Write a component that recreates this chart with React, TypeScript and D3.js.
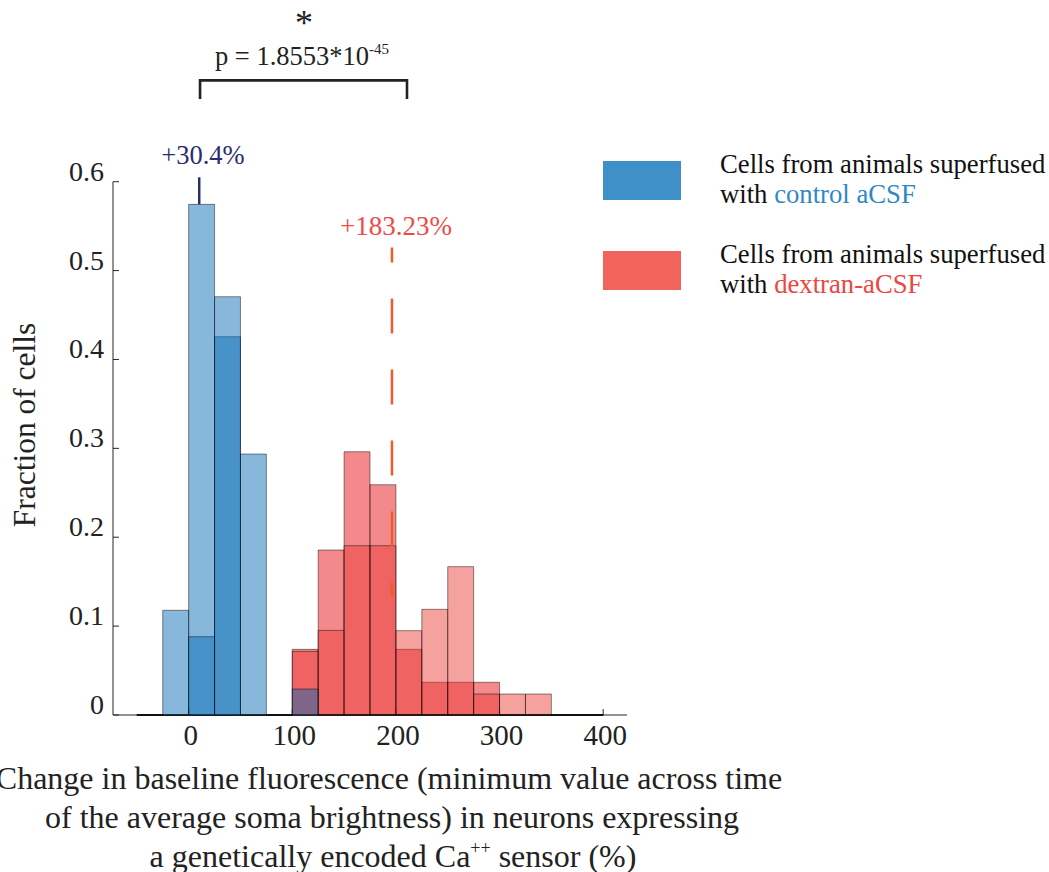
import React from 'react';
import * as d3 from 'd3';

// Histogram bin edges (shared by all four histograms)
const binEdges = [-50, -25, 0, 25, 50, 75, 100, 125, 150, 175, 200, 225, 250, 275, 300, 325, 350, 375, 400];

// Fractions of cells per bin
const controlA = [0, 0, 0.5745, 0.4256, 0, 0, 0, 0, 0, 0, 0, 0, 0, 0, 0, 0, 0, 0];
const controlB = [0, 0.1178, 0.0881, 0.4706, 0.2936, 0, 0.0292, 0, 0, 0, 0, 0, 0, 0, 0, 0, 0, 0];
const dextranA = [0, 0, 0, 0, 0, 0, 0.0739, 0.1856, 0.2962, 0.2591, 0.0739, 0.0368, 0.0368, 0.0368, 0, 0, 0, 0];
const dextranB = [0, 0, 0, 0, 0, 0, 0.0716, 0.0952, 0.1905, 0.1905, 0.0949, 0.1189, 0.1669, 0.0236, 0.0236, 0.0236, 0, 0];

const xTicks = [0, 100, 200, 300, 400];
const yTicks = [0, 0.1, 0.2, 0.3, 0.4, 0.5, 0.6];
const yTickLabels = ['0', '0.1', '0.2', '0.3', '0.4', '0.5', '0.6'];

// Annotation values (data units)
const controlMarkerX = 10.2;
const controlMarkerY = [0.5745, 0.605];
const dextranMarkerX = 196.2;
const dextranMarkerY = [0.133, 0.526];
const bracketX = [11, 210.7];
const bracketY = [0.693, 0.714];

const FONT = '"Liberation Serif", "Times New Roman", serif';

export default function App() {
  const W = 1049;
  const H = 872;
  const x = d3.scaleLinear().domain([-73, 423]).range([113, 627]);
  const y = d3.scaleLinear().domain([0, 0.6]).range([715, 181.7]);

  const series = [
    { vals: dextranA, fill: 'rgb(235,40,45)', op: 0.55 },
    { vals: dextranB, fill: 'rgb(235,59,53)', op: 0.48 },
    { vals: controlA, fill: 'rgb(0,104,181)', op: 0.47 },
    { vals: controlB, fill: 'rgb(0,104,181)', op: 0.47 },
  ];

  const barPath = (i: number, v: number) => {
    const x0 = x(binEdges[i]);
    const x1 = x(binEdges[i + 1]);
    const y0 = y(0);
    const y1 = y(v);
    const p = d3.path();
    p.moveTo(x0, y0);
    p.lineTo(x0, y1);
    p.lineTo(x1, y1);
    p.lineTo(x1, y0);
    p.closePath();
    return p.toString();
  };

  const axisColor = '#262626';

  return (
    <svg width={W} height={H} style={{ position: 'absolute', left: 0, top: 0, background: '#fff' }} fontFamily={FONT}>
      {/* axes */}
      <line x1={x.range()[0]} x2={x.range()[0]} y1={y(0)} y2={y(0.6)} stroke={axisColor} strokeWidth={1} />
      <line x1={x.range()[0]} x2={x.range()[1]} y1={y(0)} y2={y(0)} stroke={axisColor} strokeWidth={1} />
      {yTicks.map((t, i) => (
        <g key={'yt' + i}>
          <line x1={x.range()[0]} x2={x.range()[0] + 6} y1={y(t)} y2={y(t)} stroke={axisColor} strokeWidth={1} />
          <text x={104} y={y(t) - 1} textAnchor="end" fontSize={28} fill="#222">{yTickLabels[i]}</text>
        </g>
      ))}
      {xTicks.map((t, i) => (
        <g key={'xt' + i}>
          <line x1={x(t)} x2={x(t)} y1={y(0)} y2={y(0) - 6} stroke={axisColor} strokeWidth={1} />
          <text x={x(t) + 2} y={745} textAnchor="middle" fontSize={29} fill="#222">{t}</text>
        </g>
      ))}

      {/* histograms */}
      {series.map((s, si) => (
        <g key={'s' + si}>
          {s.vals.map((v, i) => (
            <path key={i} d={barPath(i, v)} fill={s.fill} fillOpacity={v > 0 ? s.op : 0} stroke="#000" strokeOpacity={0.45} strokeWidth={1} />
          ))}
        </g>
      ))}

      {/* mean markers */}
      <line x1={x(controlMarkerX)} x2={x(controlMarkerX)} y1={y(controlMarkerY[0])} y2={y(controlMarkerY[1])} stroke="#2a2d6e" strokeWidth={2.5} />
      <text x={203} y={164} textAnchor="middle" fontSize={26.5} fill="#2a2d6e">+30.4%</text>
      <line x1={x(dextranMarkerX)} x2={x(dextranMarkerX)} y1={y(dextranMarkerY[1])} y2={y(dextranMarkerY[0])} stroke="#f15a2b" strokeWidth={2.5} strokeDasharray="35 36" strokeDashoffset={20} />
      <text x={396} y={235} textAnchor="middle" fontSize={27} fill="#ee4b45">+183.23%</text>

      {/* significance bracket */}
      <path d={`M${x(bracketX[0])},${y(bracketY[0])}V${y(bracketY[1])}H${x(bracketX[1])}V${y(bracketY[0])}`} fill="none" stroke="#222" strokeWidth={2.6} />
      <text x={302} y={65} textAnchor="middle" fontSize={26.5} fill="#222">p = 1.8553*10<tspan fontSize={15} dy={-11}>-45</tspan></text>
      <text x={304} y={35} textAnchor="middle" fontSize={36} fill="#222">*</text>

      {/* legend */}
      <rect x={603} y={161} width={78} height={39} fill="#3f8fc9" />
      <rect x={603} y={251} width={78} height={39} fill="#f0645c" />
      <text x={720} y={173} fontSize={26.7} fill="#111">Cells from animals superfused</text>
      <text x={720} y={203} fontSize={26.7} fill="#111">with <tspan fill="#2f87c8">control aCSF</tspan></text>
      <text x={720} y={263} fontSize={26.7} fill="#111">Cells from animals superfused</text>
      <text x={720} y={293} fontSize={26.7} fill="#111">with <tspan fill="#ee4540">dextran-aCSF</tspan></text>

      {/* axis labels */}
      <text transform="translate(35,425) rotate(-90)" textAnchor="middle" fontSize={31.5} fill="#222">Fraction of cells</text>
      <text x={389} y={789} textAnchor="middle" fontSize={32} fill="#222">Change in baseline fluorescence (minimum value across time</text>
      <text x={392} y={828} textAnchor="middle" fontSize={32} fill="#222">of the average soma brightness) in neurons expressing</text>
      <text x={393} y={867} textAnchor="middle" fontSize={32} fill="#222">a genetically encoded Ca<tspan fontSize={18} dy={-13}>++</tspan><tspan dy={13}> sensor (%)</tspan></text>
    </svg>
  );
}
